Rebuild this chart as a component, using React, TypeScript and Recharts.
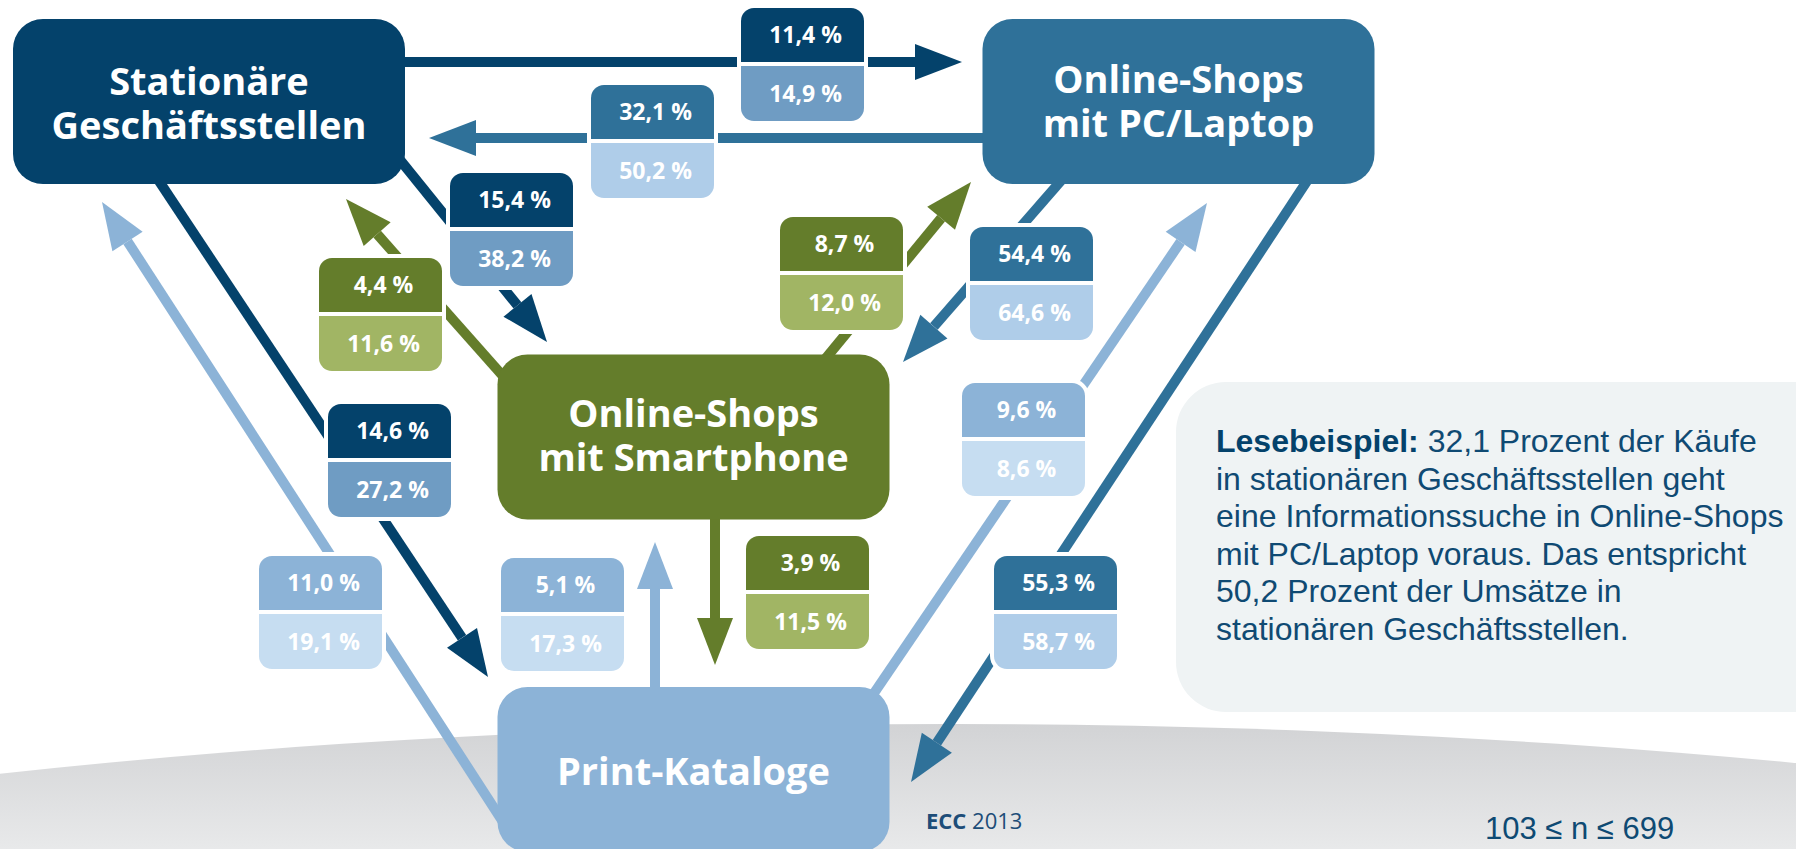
import { ScatterChart, Scatter, XAxis, YAxis } from "recharts";

const W = 1796;
const H = 849;

// channels
const channelLabelLines = [
  ["Stationäre", "Geschäftsstellen"],
  ["Online-Shops", "mit PC/Laptop"],
  ["Online-Shops", "mit Smartphone"],
  ["Print-Kataloge"],
];

// flows: information channel -> purchase channel
const flowFrom = [0, 1, 0, 2, 2, 1, 0, 3, 3, 2, 3, 1];
const shareOfPurchases = [11.4, 32.1, 15.4, 4.4, 8.7, 54.4, 14.6, 11.0, 5.1, 3.9, 9.6, 55.3];
const shareOfRevenue = [14.9, 50.2, 38.2, 11.6, 12.0, 64.6, 27.2, 19.1, 17.3, 11.5, 8.6, 58.7];

const noteBold = "Lesebeispiel:";
const noteLines = [
  " 32,1 Prozent der Käufe",
  "in stationären Geschäftsstellen geht",
  "eine Informationssuche in Online-Shops",
  "mit PC/Laptop voraus. Das entspricht",
  "50,2 Prozent der Umsätze in",
  "stationären Geschäftsstellen.",
];
const sourceBold = "ECC";
const sourceYear = "2013";
const sampleNote = "103 ≤ n ≤ 699";

// layout of the diagram (chart units, 1 unit = 1px)
const nodeCenter = [
  [209, 101.5],
  [1178.5, 101.5],
  [693.5, 437],
  [693.5, 769.5],
];
const flowLabelCenter = [
  [802.5, 64.5],
  [652.5, 141.5],
  [511.5, 229.5],
  [380.5, 314.5],
  [841.5, 273.5],
  [1031.5, 283.5],
  [389.5, 460.5],
  [320.5, 612.5],
  [562.5, 614.5],
  [807.5, 592.5],
  [1023.5, 439.5],
  [1055.5, 612.5],
];
const flowStart = [
  [395, 62],
  [990, 138],
  [392, 150],
  [510, 384],
  [812, 375],
  [1066, 175],
  [155, 175],
  [505, 825],
  [655, 700],
  [715, 505],
  [868, 702],
  [1311, 175],
];
const flowTip = [
  [962, 62],
  [429, 138],
  [547, 342],
  [346, 199],
  [971, 182],
  [903, 362],
  [488, 677],
  [102, 202],
  [655, 542],
  [715, 665],
  [1207, 203],
  [911, 782],
];
const notePos = [1176, 382];
const eccPos = [926, 829];
const samplePos = [1485, 839];

// styles
const channelColor = ["#04426B", "#2F7199", "#647D2B", "#8CB3D7"];
const channelLight = ["#6F9CC3", "#AFCDE9", "#A1B564", "#C6DDF1"];
const nodeTextShift = [0, -2, -3, 0];
const NODE_W = 392;
const NODE_H = 165;
const BOX_W = 123;
const BOX_H = 113;
const BOX_TOP = 54;
const BOX_GAP = 4;
const HEAD_LEN = 47;
const HEAD_W = 36;
const LINE_W = 10;
const OPEN = "'Open Sans', 'Noto Sans', sans-serif";
const ARIAL = "'Liberation Sans', Arial, sans-serif";

const fmt = (v: number) => v.toFixed(1).replace(".", ",") + " %";

const topRounded = (x: number, y: number, w: number, h: number, r: number) =>
  `M${x},${y + h}V${y + r}A${r},${r} 0 0 1 ${x + r},${y}H${x + w - r}A${r},${r} 0 0 1 ${x + w},${y + r}V${y + h}Z`;
const bottomRounded = (x: number, y: number, w: number, h: number, r: number) =>
  `M${x},${y}H${x + w}V${y + h - r}A${r},${r} 0 0 1 ${x + w - r},${y + h}H${x + r}A${r},${r} 0 0 1 ${x},${y + h - r}Z`;

const nodeData = nodeCenter.map(([x, y], i) => ({ x, y, i }));
const labelData = flowLabelCenter.map(([x, y], i) => ({ x, y, i }));

const arrowData = flowStart.map(([sx, sy], k) => {
  const [tx, ty] = flowTip[k];
  const len = Math.hypot(tx - sx, ty - sy);
  const ux = (tx - sx) / len;
  const uy = (ty - sy) / len;
  return [
    { x: sx, y: sy, head: false, ux, uy },
    { x: tx - ux * HEAD_LEN, y: ty - uy * HEAD_LEN, head: true, ux, uy },
  ];
});

const ArrowHead = (props: any) => {
  const { cx, cy, payload, fill } = props;
  if (!payload.head) return <g />;
  const { ux, uy } = payload;
  const nx = -uy;
  const ny = ux;
  const pts = [
    [cx + nx * HEAD_W / 2, cy + ny * HEAD_W / 2],
    [cx + ux * HEAD_LEN, cy + uy * HEAD_LEN],
    [cx - nx * HEAD_W / 2, cy - ny * HEAD_W / 2],
  ];
  return <polygon points={pts.map((p) => p.join(",")).join(" ")} fill={fill} />;
};

const NodeShape = (props: any) => {
  const { cx, cy, payload } = props;
  const i = payload.i;
  const lines = channelLabelLines[i];
  const lh = 44;
  const first = cy + 15 + nodeTextShift[i] - ((lines.length - 1) * lh) / 2;
  return (
    <g>
      <rect x={cx - NODE_W / 2} y={cy - NODE_H / 2} width={NODE_W} height={NODE_H} rx={30} fill={channelColor[i]} />
      <text textAnchor="middle" fill="#fff" fontFamily={OPEN} fontWeight={700} fontSize={38}>
        {lines.map((t, j) => (
          <tspan key={j} x={cx} y={first + j * lh}>
            {t}
          </tspan>
        ))}
      </text>
    </g>
  );
};

const LabelShape = (props: any) => {
  const { cx, cy, payload } = props;
  const k = payload.i;
  const src = flowFrom[k];
  const x = cx - BOX_W / 2;
  const y = cy - BOX_H / 2;
  const y2 = y + BOX_TOP + BOX_GAP;
  const h2 = BOX_H - BOX_TOP - BOX_GAP;
  return (
    <g>
      <rect x={x - 4} y={y - 4} width={BOX_W + 8} height={BOX_H + 8} rx={17} fill="#fff" />
      <path d={topRounded(x, y, BOX_W, BOX_TOP, 13)} fill={channelColor[src]} />
      <path d={bottomRounded(x, y2, BOX_W, h2, 13)} fill={channelLight[src]} />
      <text x={cx + 3} y={y + BOX_TOP / 2 + 8} textAnchor="middle" fill="#fff" fontFamily={OPEN} fontWeight={700} fontSize={23}>
        {fmt(shareOfPurchases[k])}
      </text>
      <text x={cx + 3} y={y2 + h2 / 2 + 8} textAnchor="middle" fill="#fff" fontFamily={OPEN} fontWeight={700} fontSize={23}>
        {fmt(shareOfRevenue[k])}
      </text>
    </g>
  );
};

const NoteShape = (props: any) => {
  const { cx, cy } = props;
  return (
    <g>
      <rect x={cx} y={cy} width={680} height={330} rx={50} fill="#EFF3F4" />
      <text fontFamily={ARIAL} fontSize={32} fill="#0F4A73">
        {noteLines.map((t, j) => (
          <tspan key={j} x={cx + 40} y={cy + 70 + j * 37.5}>
            {j === 0 ? <tspan fontWeight={700} fill="#04426B">{noteBold}</tspan> : null}
            {t}
          </tspan>
        ))}
      </text>
    </g>
  );
};

const FooterShape = (props: any) => {
  const { cx, cy, payload } = props;
  if (payload.kind === "ecc") {
    return (
      <text x={cx} y={cy} fontFamily={OPEN} fontSize={22} fill="#1D4D78">
        <tspan fontWeight={700}>{sourceBold}</tspan> {sourceYear}
      </text>
    );
  }
  return (
    <text x={cx} y={cy} fontFamily={ARIAL} fontSize={31} fill="#0E4A73">
      {sampleNote}
    </text>
  );
};

export default function App() {
  return (
    <div style={{ position: "absolute", left: 0, top: 0, width: W, height: H, overflow: "hidden", background: "#fff" }}>
      <div
        style={{
          position: "absolute",
          left: 950 - 2500,
          top: 724,
          width: 5000,
          height: 1324,
          borderRadius: "50%",
          background: "linear-gradient(#D2D3D5 0px, #E8E9EA 125px)",
        }}
      />
      <div style={{ position: "absolute", left: 0, top: 0 }}>
        <ScatterChart width={W} height={H} margin={{ top: 0, right: 0, bottom: 0, left: 0 }}>
          <XAxis type="number" dataKey="x" domain={[0, W]} allowDataOverflow hide />
          <YAxis type="number" dataKey="y" domain={[0, H]} allowDataOverflow reversed hide />
          {arrowData.map((d, k) => (
            <Scatter
              key={"a" + k}
              data={d}
              fill={channelColor[flowFrom[k]]}
              line={{ stroke: channelColor[flowFrom[k]], strokeWidth: LINE_W }}
              lineType="joint"
              shape={ArrowHead}
              isAnimationActive={false}
            />
          ))}
          <Scatter data={nodeData} shape={NodeShape} isAnimationActive={false} />
          <Scatter data={labelData} shape={LabelShape} isAnimationActive={false} />
          <Scatter data={[{ x: notePos[0], y: notePos[1] }]} shape={NoteShape} isAnimationActive={false} />
          <Scatter
            data={[
              { x: eccPos[0], y: eccPos[1], kind: "ecc" },
              { x: samplePos[0], y: samplePos[1], kind: "n" },
            ]}
            shape={FooterShape}
            isAnimationActive={false}
          />
        </ScatterChart>
      </div>
    </div>
  );
}
